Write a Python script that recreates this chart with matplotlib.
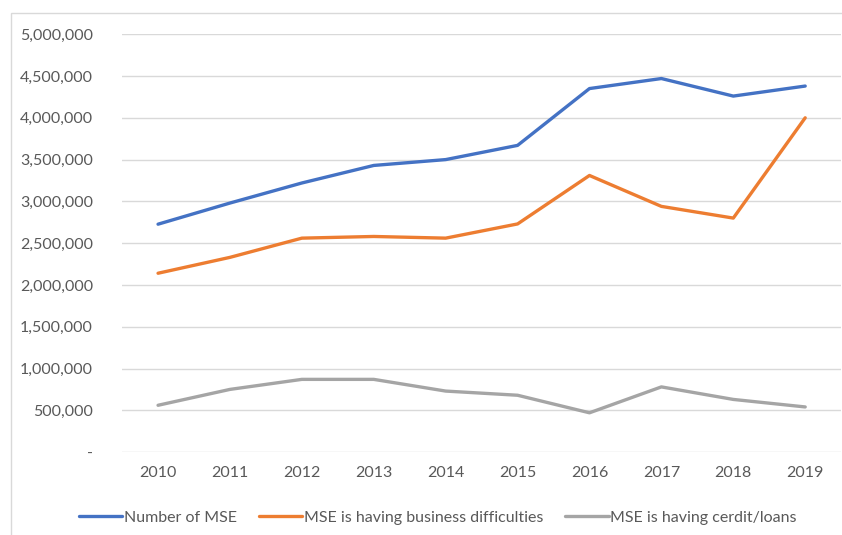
import matplotlib.pyplot as plt
from matplotlib.patches import Rectangle
from matplotlib.ticker import FuncFormatter

plt.rcParams['font.family'] = ['Lato', 'DejaVu Sans']

# データ
years = ['2010', '2011', '2012', '2013', '2014', '2015', '2016', '2017', '2018', '2019']
number_mse = [2727000, 2980000, 3220000, 3430000, 3500000, 3670000, 4350000, 4470000, 4260000, 4380000]
business_difficulties = [2140000, 2330000, 2560000, 2580000, 2560000, 2730000, 3310000, 2940000, 2800000, 4000000]
credit_loans = [560000, 750000, 870000, 870000, 730000, 680000, 470000, 780000, 630000, 540000]

labels = ['Number of MSE', 'MSE is having business difficulties', 'MSE is having cerdit/loans']
colors = ['#4472C4', '#ED7D31', '#A5A5A5']

fig = plt.figure(figsize=(8.42, 5.35), dpi=100)
ax = fig.add_axes([0.145, 0.155, 0.854, 0.781])

# 外枠
fig.patches.append(Rectangle((11 / 842, -0.01), 1.0, 1 - 13 / 535 + 0.01,
                             transform=fig.transFigure, fill=False,
                             edgecolor='#D9D9D9', linewidth=1.0))

x = range(len(years))
for series, label, color in zip([number_mse, business_difficulties, credit_loans], labels, colors):
    ax.plot(x, series, color=color, linewidth=2.4, label=label, solid_capstyle='round')

ax.set_xlim(-0.5, len(years) - 0.5)
ax.set_ylim(0, 5000000)
ax.set_yticks(range(0, 5000001, 500000))
ax.yaxis.set_major_formatter(FuncFormatter(lambda v, p: '-' if v == 0 else f'{int(v):,}'))
ax.set_xticks(list(x))
ax.set_xticklabels(years)

ax.grid(axis='y', color='#D9D9D9', linewidth=1.0)
ax.set_axisbelow(True)
for s in ax.spines.values():
    s.set_visible(False)
ax.tick_params(length=0, labelsize=11.5, labelcolor='#595959')
ax.tick_params(axis='y', pad=21)
ax.tick_params(axis='x', pad=10)

fig.legend(loc='lower center', ncol=3, frameon=False, fontsize=11.5,
           bbox_to_anchor=(0.52, -0.008), handlelength=2.7, handletextpad=0.1,
           columnspacing=1.4, labelcolor='#595959')

fig.savefig('out.png', dpi=100)
